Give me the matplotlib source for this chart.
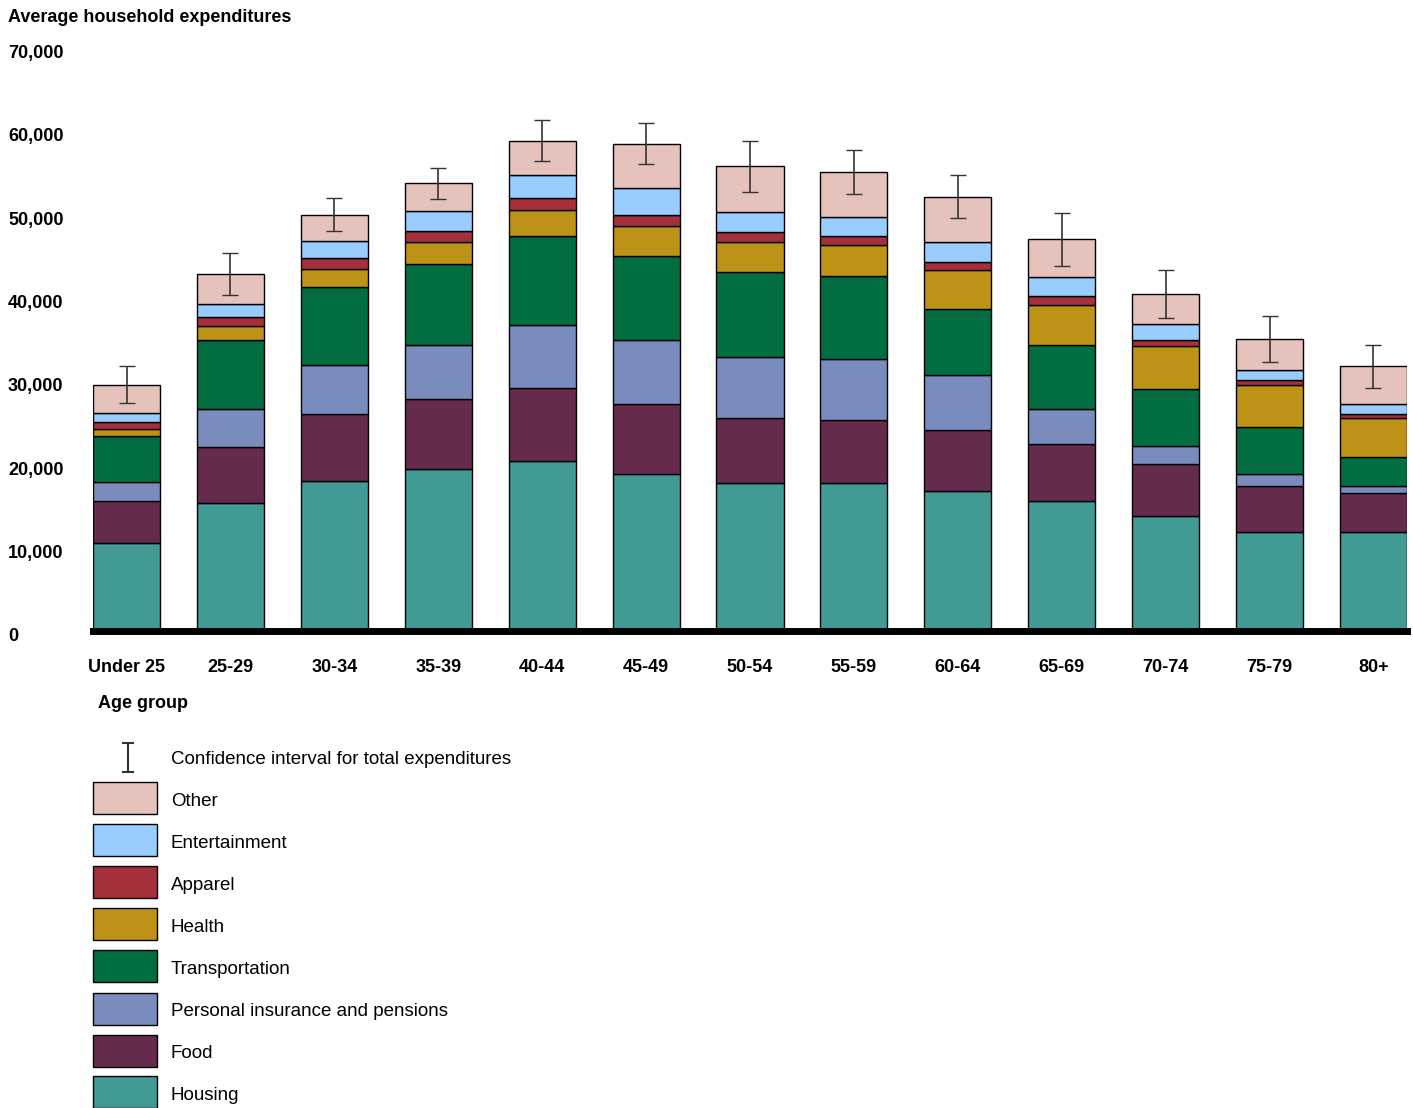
import matplotlib
matplotlib.use("Agg")
import matplotlib.pyplot as plt
from matplotlib.patches import Rectangle
from matplotlib.lines import Line2D
import numpy as np

plt.rcParams['font.family'] = ['Liberation Sans', 'DejaVu Sans']

ages = ['Under 25', '25-29', '30-34', '35-39', '40-44', '45-49', '50-54',
        '55-59', '60-64', '65-69', '70-74', '75-79', '80+']
categories = ['Housing', 'Food', 'Personal insurance and pensions', 'Transportation',
              'Health', 'Apparel', 'Entertainment', 'Other']
colors = ['#419a93', '#642b4c', '#7a8bbd', '#036d42', '#bd9317', '#a52f3a',
          '#99ccff', '#e5c3bc']

# cumulative top of each segment, in thousands (housing .. other)
tops = [
    [10.7, 15.8, 18.1, 23.6, 24.5, 25.3, 26.4, 29.9],
    [15.5, 22.3, 26.9, 35.3, 37.0, 38.1, 39.7, 43.3],
    [18.2, 26.3, 32.3, 41.7, 43.9, 45.3, 47.3, 50.5],
    [19.7, 28.1, 34.7, 44.5, 47.2, 48.5, 51.0, 54.3],
    [20.6, 29.5, 37.1, 47.9, 51.1, 52.5, 55.3, 59.5],
    [19.0, 27.5, 35.3, 45.5, 49.1, 50.5, 53.7, 59.1],
    [17.9, 25.8, 33.3, 43.6, 47.2, 48.4, 50.8, 56.4],
    [17.9, 25.6, 33.0, 43.1, 46.8, 47.9, 50.2, 55.7],
    [17.0, 24.4, 31.1, 39.1, 43.8, 44.8, 47.2, 52.7],
    [15.8, 22.7, 26.9, 34.7, 39.6, 40.6, 43.0, 47.5],
    [14.0, 20.3, 22.4, 29.4, 34.6, 35.3, 37.2, 40.9],
    [12.0, 17.6, 19.1, 24.8, 29.8, 30.4, 31.7, 35.4],
    [12.0, 16.8, 17.6, 21.1, 25.9, 26.3, 27.5, 32.1],
]
ci = [2.2, 2.5, 2.0, 1.9, 2.5, 2.5, 3.1, 2.7, 2.6, 3.2, 2.9, 2.8, 2.6]

tops = np.array(tops) * 1000
segs = np.diff(np.hstack([np.zeros((len(ages), 1)), tops]), axis=1)
ci = np.array(ci) * 1000

W, H = 1413, 1108
fig = plt.figure(figsize=(W / 100, H / 100), dpi=100)
ax = fig.add_axes([93 / W, 1 - 631 / H, (1407 - 93) / W, (631 - 54) / H])

x = np.arange(len(ages))
bw = 0.645
bottom = np.zeros(len(ages))
for j in range(len(categories)):
    ax.bar(x, segs[:, j], bw, bottom=bottom, color=colors[j],
           edgecolor='black', linewidth=1)
    bottom += segs[:, j]
ax.errorbar(x, tops[:, -1], yerr=ci, fmt='none', ecolor='#333333',
            elinewidth=1.2, capsize=6)

ax.set_xlim(-bw / 2, len(ages) - 1 + bw / 2)
ax.set_ylim(0, 70000)
for s in ['top', 'right', 'left']:
    ax.spines[s].set_visible(False)
ax.spines['bottom'].set_linewidth(5)
ax.set_yticks([])
ax.set_xticks(x)
ax.set_xticklabels(ages, fontsize=13, fontweight='bold')
ax.tick_params(axis='x', length=0, pad=20)

trans = matplotlib.transforms.blended_transform_factory(fig.transFigure, ax.transData)
for v in range(0, 70001, 10000):
    ax.text(8 / W, v * 1.011 - 700, f'{v:,}', transform=trans, ha='left', va='center',
            fontsize=13, fontweight='bold')

fig.text(8 / W, 1 - 17 / H, 'Average household expenditures', fontsize=13,
         fontweight='bold', va='center')
fig.text(98 / W, 1 - 703 / H, 'Age group', fontsize=13, fontweight='bold', va='center')

# legend
fig.add_artist(Line2D([128 / W, 128 / W], [1 - 743 / H, 1 - 772 / H], color='#333333', lw=1.5))
for yy in (743, 772):
    fig.add_artist(Line2D([123 / W, 133 / W], [1 - yy / H, 1 - yy / H], color='#333333', lw=1.5))
fig.text(171 / W, 1 - 760 / H, 'Confidence interval for total expenditures',
         fontsize=13.5, va='center')
rows = [798, 840, 882, 924, 966, 1009, 1051, 1092]
for yy, j in zip(rows, range(len(categories) - 1, -1, -1)):
    fig.add_artist(Rectangle((93 / W, 1 - (yy + 16) / H), 64 / W, 32 / H,
                             facecolor=colors[j], edgecolor='black', lw=1,
                             transform=fig.transFigure))
    fig.text(171 / W, 1 - (yy + 3) / H, categories[j], fontsize=13.5, va='center')

fig.savefig('out.png', dpi=100)
